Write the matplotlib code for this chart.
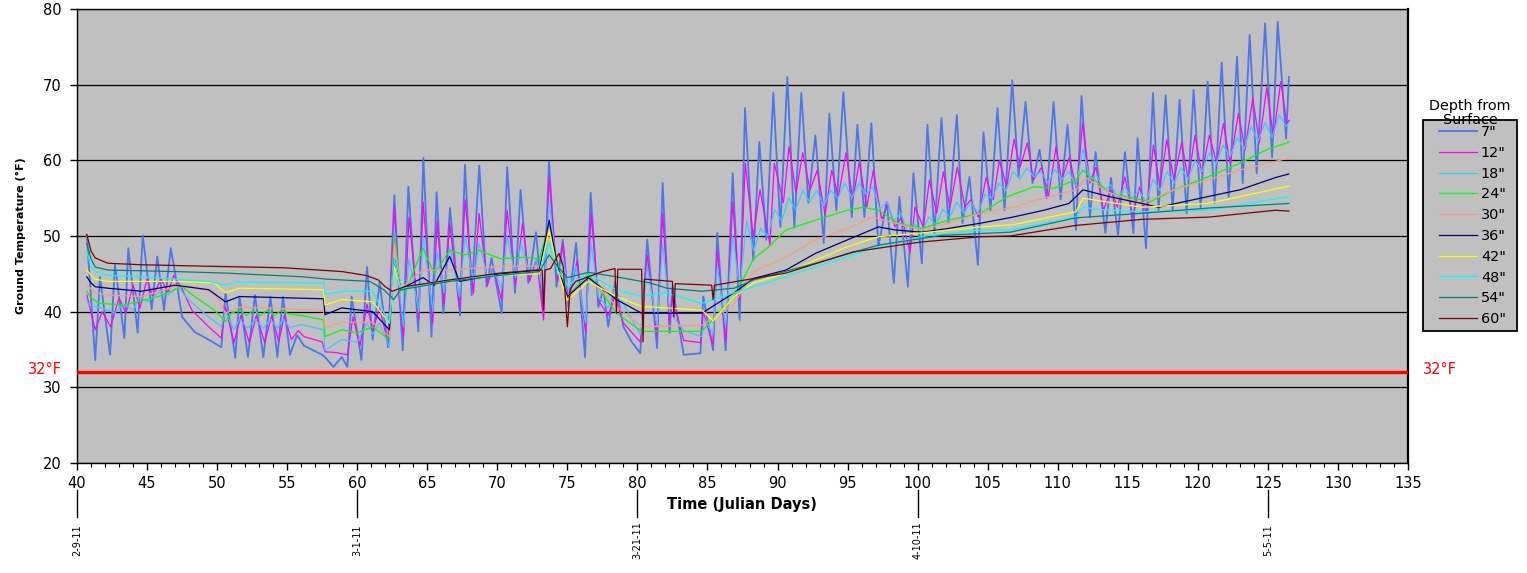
import numpy as np
import matplotlib
matplotlib.use("Agg")
import matplotlib.pyplot as plt
from matplotlib.patches import Rectangle
from matplotlib.ticker import MultipleLocator

plt.rcParams['font.family'] = ['DejaVu Sans']

# ground temperature readings (julian day, deg F)
depth_7 = [(40.7, 50.1), (41.3, 33.6), (41.64, 44.6), (42.36, 34.3), (42.71, 46.2), (43.38, 36.5), (43.66, 48.4),
           (44.33, 37.2), (44.69, 50.1), (45.33, 40.3), (45.73, 47.3), (46.21, 40.2), (46.69, 48.4), (47.1, 44.0),
           (47.5, 39.3), (48.4, 37.3), (49.4, 36.3), (50.3, 35.3), (50.6, 42.5), (51.3, 33.9), (51.6, 42.0),
           (52.2, 34.0), (52.7, 42.2), (53.3, 34.0), (53.8, 42.0), (54.3, 34.0), (54.7, 42.0), (55.2, 34.3),
           (55.7, 36.9), (56.2, 35.5), (57.5, 34.3), (57.7, 34.0), (58.3, 32.7), (58.9, 34.0), (59.3, 32.7),
           (59.6, 42.0), (60.3, 33.6), (60.7, 45.9), (61.1, 36.3), (61.6, 43.8), (62.2, 35.3), (62.65, 55.4),
           (63.0, 42.5), (63.25, 34.9), (63.65, 56.5), (64.36, 37.4), (64.72, 60.3), (65.3, 36.7), (65.67, 55.8),
           (66.15, 39.8), (66.62, 53.7), (67.34, 39.5), (67.69, 59.4), (68.17, 42.2), (68.71, 59.3), (69.24, 43.3),
           (69.59, 47.1), (70.31, 39.8), (70.71, 59.1), (71.26, 42.5), (71.66, 56.1), (72.21, 43.8), (72.76, 50.5),
           (73.28, 39.8), (73.69, 59.8), (74.23, 43.3), (74.67, 49.5), (75.07, 40.6), (75.62, 49.1), (76.26, 34.0),
           (76.66, 55.7), (77.21, 40.6), (77.57, 43.0), (77.92, 38.0), (78.4, 44.0), (79.0, 38.0), (79.6, 36.0),
           (80.2, 34.5), (80.7, 49.5), (81.4, 35.2), (81.8, 57.0), (82.3, 37.2), (82.5, 43.4), (83.3, 34.3),
           (84.5, 34.5), (84.7, 42.0), (85.4, 34.9), (85.7, 50.4), (86.3, 34.9), (86.8, 58.3), (87.3, 38.9),
           (87.68, 66.9), (88.27, 46.8), (88.7, 62.4), (89.2, 49.5), (89.7, 68.9), (90.2, 51.2), (90.7, 71.0),
           (91.2, 51.1), (91.7, 68.9), (92.2, 54.4), (92.7, 63.3), (93.3, 49.1), (93.7, 66.2), (94.2, 53.4),
           (94.7, 69.0), (95.3, 52.5), (95.7, 64.7), (96.2, 52.5), (96.7, 64.9), (97.2, 48.6), (97.8, 54.5),
           (98.3, 43.8), (98.7, 55.2), (99.3, 43.3), (99.7, 58.3), (100.3, 46.4), (100.7, 64.7), (101.2, 50.4),
           (101.7, 65.6), (102.2, 51.7), (102.8, 66.0), (103.2, 51.7), (103.7, 57.8), (104.3, 46.2), (104.7, 63.7),
           (105.2, 53.4), (105.7, 66.9), (106.2, 53.4), (106.75, 70.6), (107.2, 57.8), (107.7, 67.7), (108.2, 57.0),
           (108.7, 61.4), (109.2, 55.0), (109.7, 67.7), (110.2, 54.8), (110.7, 64.7), (111.3, 50.8), (111.7, 68.5),
           (112.3, 52.5), (112.7, 61.1), (113.4, 50.4), (113.8, 57.7), (114.3, 50.1), (114.8, 61.1), (115.4, 50.4),
           (115.7, 62.9), (116.3, 48.4), (116.8, 68.9), (117.2, 53.4), (117.7, 68.6), (118.2, 53.4), (118.7, 68.0),
           (119.2, 53.0), (119.7, 69.3), (120.2, 53.8), (120.7, 70.4), (121.2, 54.4), (121.7, 72.9), (122.2, 55.2),
           (122.8, 73.7), (123.2, 57.0), (123.7, 76.6), (124.2, 58.3), (124.8, 78.1), (125.3, 60.4), (125.7, 78.3),
           (126.3, 62.9), (126.5, 71.0)]

depth_12 = [(40.7, 42.2), (41.3, 37.6), (41.8, 40.0), (42.4, 38.0), (43.0, 41.8), (43.5, 39.8), (44.0, 43.5),
            (44.5, 40.5), (45.0, 44.3), (45.4, 42.0), (46.0, 44.3), (46.5, 42.5), (46.9, 44.8), (47.5, 43.0),
            (48.2, 40.2), (49.4, 38.0), (50.3, 36.5), (50.6, 40.6), (51.2, 35.9), (51.7, 39.5), (52.3, 35.9),
            (52.8, 39.5), (53.4, 35.9), (53.9, 39.5), (54.4, 36.0), (54.8, 39.5), (55.3, 36.3), (55.8, 37.5),
            (56.2, 36.7), (57.5, 36.0), (57.7, 34.7), (58.5, 34.6), (59.3, 34.3), (59.7, 39.3), (60.2, 35.5),
            (60.7, 41.0), (61.1, 37.5), (61.6, 40.5), (62.2, 35.8), (62.65, 53.8), (63.0, 42.0), (63.3, 36.7),
            (63.7, 52.5), (64.4, 39.0), (64.7, 54.5), (65.4, 38.5), (65.7, 52.0), (66.2, 41.0), (66.6, 51.7),
            (67.3, 40.5), (67.7, 54.8), (68.3, 42.4), (68.7, 53.0), (69.3, 43.5), (69.7, 46.0), (70.3, 41.5),
            (70.7, 53.4), (71.3, 43.5), (71.8, 51.7), (72.3, 44.0), (72.8, 47.0), (73.3, 38.9), (73.7, 57.8),
            (74.3, 44.0), (74.7, 49.1), (75.1, 41.5), (75.7, 46.8), (76.3, 37.2), (76.7, 53.0), (77.2, 41.5),
            (77.9, 39.5), (78.4, 42.0), (79.0, 38.5), (80.2, 36.0), (80.7, 47.5), (81.4, 36.7), (81.8, 53.0),
            (82.3, 38.5), (82.5, 42.0), (83.3, 36.2), (84.5, 35.9), (84.7, 40.0), (85.4, 35.6), (85.7, 48.2),
            (86.3, 36.0), (86.8, 54.5), (87.3, 41.6), (87.7, 59.6), (88.27, 49.9), (88.75, 56.1), (89.46, 48.8),
            (89.77, 59.6), (90.42, 54.4), (90.82, 61.8), (91.32, 55.7), (91.8, 61.0), (92.32, 56.1), (92.84, 58.7),
            (93.39, 52.8), (93.87, 58.7), (94.34, 55.2), (94.89, 61.0), (95.37, 54.8), (95.84, 59.8), (96.37, 53.8),
            (96.84, 58.7), (97.44, 52.1), (97.84, 54.4), (98.39, 51.2), (98.86, 52.5), (99.46, 47.8), (99.81, 53.8),
            (100.41, 51.2), (100.84, 57.4), (101.36, 53.0), (101.84, 58.5), (102.31, 53.8), (102.83, 59.1),
            (103.38, 53.8), (103.79, 54.8), (104.33, 52.5), (104.88, 57.7), (105.4, 54.8), (105.83, 60.0),
            (106.36, 56.5), (106.88, 62.8), (107.31, 59.1), (107.83, 62.3), (108.26, 57.4), (108.86, 59.1),
            (109.33, 55.2), (109.88, 61.8), (110.28, 57.4), (110.83, 60.4), (111.35, 56.1), (111.78, 64.9),
            (112.3, 57.0), (112.73, 59.1), (113.26, 53.4), (113.8, 56.1), (114.26, 53.8), (114.8, 57.8),
            (115.35, 52.5), (115.83, 56.5), (116.3, 53.0), (116.83, 62.0), (117.3, 56.5), (117.78, 62.7),
            (118.3, 57.4), (118.85, 62.4), (119.32, 57.4), (119.8, 63.3), (120.28, 58.3), (120.82, 63.3),
            (121.35, 59.6), (121.83, 64.9), (122.3, 59.6), (122.9, 66.2), (123.37, 61.4), (123.92, 68.2),
            (124.39, 62.3), (124.92, 69.6), (125.39, 63.1), (125.92, 70.4), (126.34, 64.9), (126.53, 65.3)]

depth_18 = [(40.7, 41.3), (41.0, 40.8), (41.8, 40.5), (42.7, 39.8), (43.3, 41.0), (44.0, 40.2), (44.5, 42.0),
            (45.0, 41.3), (45.8, 42.5), (46.5, 42.2), (47.2, 43.3), (48.0, 41.5), (49.4, 39.3), (50.3, 38.0),
            (50.6, 40.0), (51.2, 37.6), (51.6, 39.0), (52.2, 37.8), (52.7, 39.0), (53.3, 37.8), (53.8, 39.0),
            (54.3, 37.8), (54.7, 39.0), (55.2, 37.9), (56.0, 38.3), (57.6, 37.6), (57.7, 34.9), (58.9, 36.3),
            (60.0, 36.0), (60.7, 38.5), (61.1, 37.0), (61.6, 38.5), (62.3, 35.3), (62.65, 51.0), (63.0, 43.0),
            (63.3, 38.0), (63.7, 47.0), (64.4, 40.0), (64.7, 50.0), (65.4, 40.0), (65.7, 48.0), (66.2, 42.5),
            (66.6, 48.5), (67.3, 42.0), (67.7, 50.0), (68.3, 44.0), (68.7, 49.0), (69.3, 44.5), (69.7, 46.0),
            (70.3, 43.0), (70.7, 50.0), (71.3, 44.5), (71.7, 49.0), (72.3, 45.0), (72.8, 47.0), (73.3, 42.0),
            (73.7, 54.5), (74.3, 45.0), (74.7, 47.0), (75.1, 42.5), (75.6, 46.0), (76.3, 38.5), (76.7, 49.0),
            (77.2, 42.0), (77.9, 40.5), (78.4, 43.0), (80.2, 37.0), (80.7, 46.0), (81.4, 38.0), (81.8, 49.0),
            (82.3, 40.0), (83.3, 37.5), (84.6, 36.7), (84.8, 39.0), (85.4, 37.0), (85.7, 46.0), (86.3, 38.0),
            (86.8, 50.0), (87.3, 43.0), (87.8, 52.0), (88.3, 48.0), (88.8, 51.0), (89.3, 50.0), (89.8, 53.5),
            (90.3, 52.0), (90.8, 55.0), (91.3, 53.5), (91.8, 56.0), (92.3, 54.5), (92.8, 56.0), (93.3, 54.0),
            (93.8, 56.0), (94.3, 55.0), (94.8, 57.0), (95.3, 55.0), (95.8, 57.0), (96.3, 55.5), (96.8, 56.5),
            (97.3, 53.5), (97.8, 54.5), (98.3, 52.0), (98.8, 53.0), (99.3, 50.5), (99.8, 51.5), (100.3, 50.5),
            (100.8, 52.5), (101.3, 51.5), (101.8, 53.5), (102.3, 52.5), (102.8, 54.5), (103.3, 53.0), (103.8, 54.5),
            (104.3, 53.0), (104.8, 55.5), (105.3, 55.0), (105.8, 57.0), (106.3, 56.0), (106.8, 58.5), (107.3, 57.5),
            (107.8, 59.0), (108.3, 57.8), (108.8, 58.5), (109.3, 57.0), (109.8, 58.8), (110.3, 57.5), (110.8, 58.5),
            (111.3, 56.5), (111.8, 61.5), (112.3, 57.5), (112.8, 58.0), (113.3, 56.0), (113.8, 56.8), (114.3, 55.0),
            (114.8, 56.5), (115.3, 55.0), (115.8, 56.0), (116.3, 54.5), (116.8, 57.5), (117.3, 56.0), (117.8, 58.5),
            (118.3, 57.0), (118.8, 59.0), (119.3, 57.5), (119.8, 60.0), (120.3, 58.5), (120.8, 61.0), (121.3, 59.5),
            (121.8, 62.0), (122.3, 60.5), (122.8, 63.0), (123.3, 61.5), (123.8, 64.5), (124.3, 62.5), (124.8, 65.0),
            (125.3, 63.0), (125.8, 66.0), (126.3, 64.5), (126.5, 65.0)]

depth_24 = [(40.7, 42.7), (41.0, 41.8), (41.6, 41.1), (43.4, 40.9), (45.8, 42.0), (47.5, 43.3), (48.4, 42.0),
            (49.8, 40.2), (50.6, 38.7), (51.0, 39.8), (51.6, 40.2), (52.1, 39.5), (52.6, 40.2), (53.1, 39.5),
            (53.6, 40.2), (54.1, 39.5), (54.6, 40.2), (55.1, 39.7), (56.0, 39.5), (57.6, 38.9), (57.7, 36.7),
            (58.9, 37.6), (60.0, 37.2), (61.1, 38.0), (62.3, 36.3), (62.65, 50.0), (63.1, 43.0), (63.4, 42.5),
            (64.7, 48.4), (65.5, 45.0), (66.6, 48.1), (67.7, 47.5), (68.7, 48.1), (70.2, 47.0), (72.0, 47.2),
            (73.0, 47.0), (73.7, 51.5), (74.3, 46.5), (75.0, 42.0), (76.5, 45.0), (78.5, 39.8), (80.3, 37.4),
            (84.6, 37.4), (86.9, 42.0), (88.3, 47.0), (89.4, 48.6), (90.6, 50.8), (92.7, 52.1), (95.0, 53.4),
            (96.1, 53.8), (97.2, 53.4), (98.6, 51.7), (100.3, 51.0), (102.2, 52.1), (104.5, 53.0), (106.4, 55.2),
            (108.3, 56.5), (109.7, 56.3), (111.3, 57.4), (111.8, 58.7), (113.7, 55.7), (116.6, 54.5), (118.3, 56.1),
            (120.7, 57.8), (123.0, 59.6), (124.9, 61.4), (126.5, 62.4)]

depth_30 = [(40.7, 43.5), (41.0, 43.0), (41.3, 42.5), (42.2, 42.2), (44.6, 42.0), (47.0, 43.3), (48.2, 43.3),
            (49.8, 42.5), (50.6, 39.8), (51.6, 40.6), (57.6, 40.2), (57.7, 38.0), (58.9, 38.6), (61.1, 38.6),
            (62.3, 36.7), (62.65, 49.0), (63.1, 43.0), (64.7, 45.5), (66.6, 45.5), (70.2, 46.0), (73.0, 46.0),
            (73.7, 51.0), (74.3, 46.0), (75.0, 42.0), (76.5, 44.5), (78.5, 40.7), (80.3, 38.0), (84.6, 38.2),
            (86.9, 41.0), (88.3, 45.3), (90.6, 47.2), (92.7, 49.5), (95.0, 51.0), (96.8, 52.5), (98.4, 51.7),
            (100.3, 50.8), (102.2, 51.7), (104.5, 53.0), (106.8, 53.8), (109.0, 55.0), (111.3, 56.1), (112.0, 57.7),
            (113.7, 55.7), (116.0, 54.3), (118.3, 56.1), (120.7, 57.4), (123.0, 58.7), (126.5, 60.3)]

depth_36 = [(40.7, 44.6), (41.0, 43.8), (41.3, 43.3), (42.2, 43.1), (44.6, 42.7), (47.0, 43.5), (49.4, 42.9),
            (50.6, 41.3), (51.6, 42.0), (57.6, 41.7), (57.7, 39.6), (58.9, 40.5), (61.1, 40.0), (62.3, 37.6),
            (62.65, 47.0), (63.1, 43.0), (64.7, 44.5), (65.5, 43.5), (66.6, 47.3), (67.3, 44.0), (70.2, 45.0),
            (73.0, 45.5), (73.7, 52.1), (74.3, 46.0), (75.0, 42.0), (76.5, 44.5), (78.5, 41.6), (80.3, 39.8),
            (84.6, 39.8), (86.9, 42.5), (88.3, 44.4), (90.6, 45.5), (92.7, 47.7), (95.0, 49.5), (97.2, 51.2),
            (98.4, 50.8), (100.3, 50.5), (102.2, 51.0), (104.5, 51.7), (106.8, 52.5), (109.0, 53.4), (110.8, 54.3),
            (111.8, 56.1), (113.7, 55.2), (116.0, 54.3), (117.2, 53.8), (120.7, 55.2), (123.0, 56.1), (125.5, 57.7),
            (126.5, 58.2)]

depth_42 = [(40.7, 45.5), (41.0, 44.8), (41.3, 44.3), (42.2, 44.0), (47.0, 44.0), (49.8, 43.8), (50.6, 42.5),
            (51.6, 43.1), (57.6, 42.9), (57.7, 40.9), (58.9, 41.6), (61.1, 41.3), (62.3, 38.5), (62.65, 46.0),
            (63.1, 43.0), (66.6, 44.3), (70.2, 44.8), (73.0, 45.0), (73.7, 50.7), (74.3, 45.5), (75.0, 41.5),
            (76.5, 44.0), (78.5, 42.0), (80.3, 40.7), (84.6, 40.2), (85.4, 38.8), (86.9, 42.0), (88.3, 43.8),
            (90.6, 45.1), (92.7, 46.8), (95.0, 48.6), (97.2, 49.9), (100.2, 50.4), (104.5, 51.2), (106.8, 51.5),
            (111.3, 53.2), (111.8, 55.0), (113.5, 54.5), (116.0, 53.8), (120.7, 54.3), (123.0, 55.2), (126.5, 56.6)]

depth_48 = [(40.7, 48.0), (41.0, 46.0), (41.3, 45.3), (42.2, 44.8), (44.6, 44.6), (49.4, 44.0), (50.6, 43.5),
            (51.5, 43.9), (57.6, 43.8), (57.7, 42.3), (58.9, 42.7), (61.1, 42.7), (62.3, 38.5), (62.65, 47.0),
            (63.1, 43.0), (66.6, 44.3), (70.2, 44.8), (73.0, 45.3), (73.7, 49.0), (74.3, 45.5), (75.0, 43.5),
            (76.5, 45.0), (78.5, 42.9), (80.3, 42.0), (82.0, 42.5), (84.6, 41.1), (86.9, 42.5), (88.3, 43.3),
            (92.7, 45.9), (97.2, 48.6), (100.2, 49.9), (104.5, 50.8), (106.6, 50.8), (111.3, 52.5), (111.8, 53.8),
            (113.0, 53.5), (116.0, 53.2), (120.8, 53.4), (126.5, 55.2)]

depth_54 = [(40.7, 49.0), (41.0, 47.0), (41.3, 45.9), (42.2, 45.5), (47.0, 45.3), (50.6, 45.1), (56.2, 44.6),
            (57.8, 44.3), (60.9, 44.0), (61.9, 42.9), (62.6, 41.6), (63.1, 42.9), (66.6, 44.0), (70.2, 44.8),
            (73.0, 45.3), (73.7, 47.5), (74.3, 46.0), (75.0, 44.5), (76.5, 45.2), (78.5, 44.6), (80.9, 43.8),
            (82.1, 43.1), (84.6, 42.7), (86.9, 43.1), (88.3, 44.2), (92.7, 46.4), (97.2, 48.8), (101.8, 50.1),
            (106.6, 50.5), (111.3, 52.4), (116.0, 53.0), (120.8, 53.7), (126.5, 54.3)]

depth_60 = [(40.7, 50.2), (41.0, 48.0), (41.3, 47.1), (42.2, 46.4), (44.6, 46.2), (49.4, 46.0), (54.8, 45.8),
            (58.9, 45.3), (60.6, 44.8), (61.5, 44.2), (62.0, 43.3), (62.5, 42.7), (63.4, 43.3), (66.6, 44.2),
            (70.2, 45.1), (72.8, 45.5), (73.2, 45.5), (73.3, 40.2), (73.4, 45.5), (73.8, 45.7), (74.4, 47.7),
            (74.7, 46.0), (75.0, 38.0), (75.2, 43.0), (75.6, 44.0), (77.5, 45.3), (78.4, 45.7), (78.5, 39.8),
            (78.6, 45.6), (80.3, 45.6), (80.4, 36.0), (80.5, 44.3), (82.5, 44.0), (82.6, 39.3), (82.7, 43.7),
            (85.3, 43.5), (85.4, 41.6), (85.5, 43.5), (90.6, 45.1), (95.4, 47.9), (100.2, 49.2), (104.5, 49.9),
            (106.6, 50.0), (111.3, 51.4), (116.0, 52.2), (120.8, 52.5), (125.5, 53.4), (126.5, 53.3)]

series = [('7"', depth_7, '#4a76ee'), ('12"', depth_12, '#ff00ff'), ('18"', depth_18, '#33ccff'),
          ('24"', depth_24, '#00ff00'), ('30"', depth_30, '#ff9980'), ('36"', depth_36, '#000080'),
          ('42"', depth_42, '#ffff00'), ('48"', depth_48, '#00ffff'), ('54"', depth_54, '#008080'),
          ('60"', depth_60, '#800000')]

date_days = [40, 60, 80, 100, 125]
date_labels = ['2-9-11', '3-1-11', '3-21-11', '4-10-11', '5-5-11']
freezing = 32

W, H = 1527, 573
fig = plt.figure(figsize=(W / 100, H / 100), dpi=100)
ax = fig.add_axes([77 / W, 1 - 463 / H, (1408 - 77) / W, (463 - 9) / H])
ax.set_facecolor('#c0c0c0')

handles = []
for name, data, col in series:
    d, t = np.array(data).T
    lw = 1.3 if name == '7"' else 0.9
    ln, = ax.plot(d, t, color=col, lw=lw, label=name)
    handles.append(ln)

ax.axhline(freezing, color='#ff0000', lw=2.4, zorder=5)

ax.set_xlim(40, 135)
ax.set_ylim(20, 80)
ax.xaxis.set_major_locator(MultipleLocator(5))
ax.xaxis.set_minor_locator(MultipleLocator(1))
ax.yaxis.set_major_locator(MultipleLocator(10))
ax.grid(axis='y', color='black', lw=0.9)
ax.set_axisbelow(True)
ax.tick_params(axis='both', which='major', direction='out', length=5, width=1, labelsize=10.5)
ax.tick_params(axis='x', which='major', pad=4.5)
ax.tick_params(axis='y', which='major', pad=6)
ax.tick_params(axis='x', which='minor', direction='out', length=3, width=0.8)
for s in ax.spines.values():
    s.set_color('black')
    s.set_linewidth(1)
ax.spines['right'].set_linewidth(1.6)

fig.text(21 / W, 1 - 236 / H, 'Ground Temperature (°F)', rotation=90, fontsize=8,
         fontweight='bold', ha='center', va='center')
fig.text(742 / W, 1 - 505 / H, 'Time (Julian Days)', fontsize=10.5, fontweight='bold',
         ha='center', va='center')

# freezing labels on both sides
ax.text(38.9, freezing + 0.4, '32°F', color='#ff0000', fontsize=10.5, ha='right', va='center', clip_on=False)
ax.text(136.05, freezing + 0.4, '32°F', color='#ff0000', fontsize=10.5, ha='left', va='center', clip_on=False)

# calendar date markers under the axis
trans = ax.get_xaxis_transform()
for day, lab in zip(date_days, date_labels):
    ax.plot([day, day], [-(490 - 463) / 454, -(517 - 463) / 454], color='black', lw=1,
            transform=trans, clip_on=False)
    ax.text(day, -(540 - 463) / 454, lab, rotation=90, fontsize=7, ha='center', va='center',
            transform=trans)

# legend box
fig.patches.append(Rectangle((1423 / W, 1 - 331 / H), 94 / W, 211 / H, transform=fig.transFigure,
                             facecolor='#c0c0c0', edgecolor='black', lw=1.3, zorder=0))
fig.legend(handles=handles, loc='upper left', bbox_to_anchor=(1439 / W, 1 - 125 / H), frameon=False,
           fontsize=10.4, handlelength=2.6, handletextpad=0.3, labelspacing=0.47, borderpad=0,
           borderaxespad=0)
fig.text(1470 / W, 1 - 113 / H, 'Depth from\nSurface', fontsize=10.4, ha='center', va='center',
         linespacing=1.0)

fig.savefig('out.png', dpi=100)
